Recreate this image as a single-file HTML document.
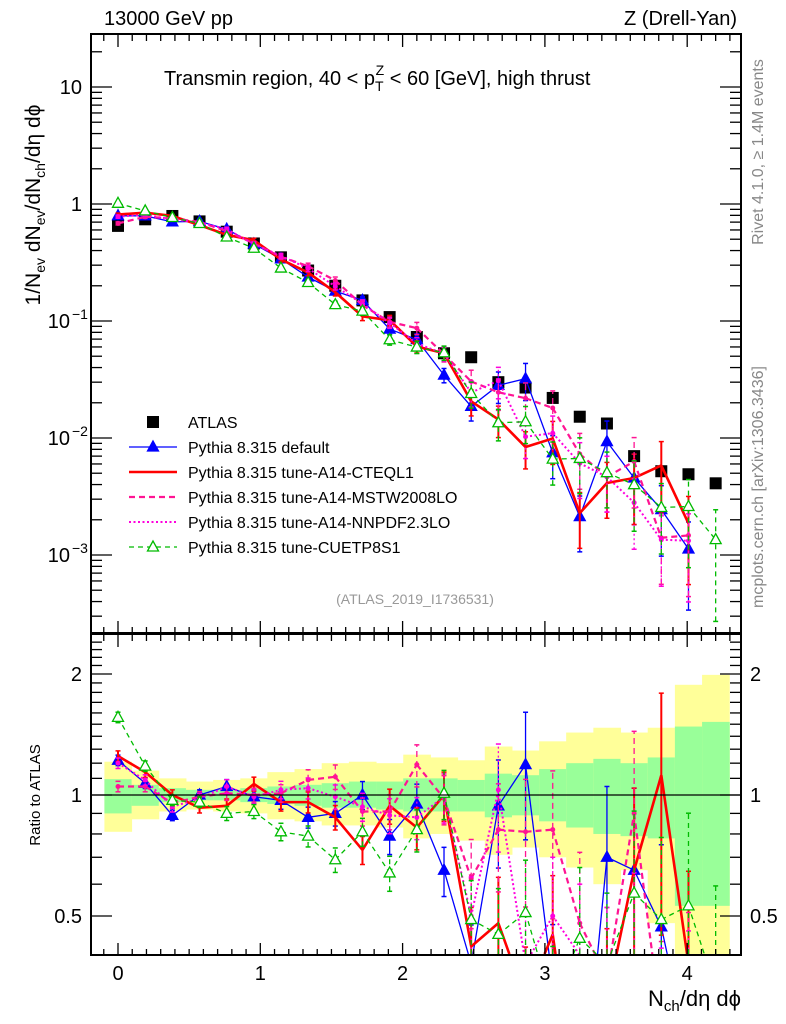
<!DOCTYPE html>
<html><head><meta charset="utf-8">
<style>
html,body{margin:0;padding:0;background:#fff;overflow:hidden;width:786px;height:1024px;}
svg{display:block;font-family:"Liberation Sans",sans-serif;}
</style></head>
<body>
<svg id="chart" width="786" height="1024" viewBox="0 0 786 1024">
<defs>
<clipPath id="clipMain"><rect x="91" y="34" width="650" height="599"/></clipPath>
<clipPath id="clipRatio"><rect x="91" y="634" width="650" height="321"/></clipPath>
</defs>
<g id="ratioBands" clip-path="url(#clipRatio)"></g>
<g id="mainMarks" clip-path="url(#clipMain)"></g>
<g id="ratioMarks" clip-path="url(#clipRatio)"></g>
<g id="axes"></g>
<rect x="91" y="34" width="650" height="599" fill="none" stroke="#000" stroke-width="2"/>
<rect x="91" y="634" width="650" height="321" fill="none" stroke="#000" stroke-width="2"/>
<line x1="91" y1="795" x2="741" y2="795" stroke="#000" stroke-width="1.2"/>
<text x="104" y="25" font-size="20">13000 GeV pp</text>
<text x="737" y="25" font-size="20" text-anchor="end">Z (Drell-Yan)</text>
<text x="164" y="85" font-size="20">Transmin region, 40 &lt; p<tspan font-size="14" dy="6">T</tspan><tspan font-size="14" dx="-8" dy="-16">Z</tspan><tspan dy="10"> &lt; 60 [GeV], high thrust</tspan></text>
<text x="415" y="604" font-size="14" fill="#999" text-anchor="middle">(ATLAS_2019_I1736531)</text>
<text transform="translate(763,152) rotate(-90)" font-size="16" fill="#888" text-anchor="middle">Rivet 4.1.0, ≥ 1.4M events</text>
<text transform="translate(763,487) rotate(-90)" font-size="16" fill="#888" text-anchor="middle">mcplots.cern.ch [arXiv:1306.3436]</text>
<text transform="translate(40,205) rotate(-90)" font-size="21" text-anchor="middle">1/N<tspan font-size="14" dy="5">ev</tspan><tspan dy="-5"> dN</tspan><tspan font-size="14" dy="5">ev</tspan><tspan dy="-5">/dN</tspan><tspan font-size="14" dy="5">ch</tspan><tspan dy="-5">/dη dϕ</tspan></text>
<text transform="translate(40,795) rotate(-90)" font-size="15" text-anchor="middle">Ratio to ATLAS</text>
<text x="741" y="1006" font-size="22" text-anchor="end">N<tspan font-size="15" dy="5">ch</tspan><tspan dy="-5">/dη dϕ</tspan></text>
<g id="legend"></g>
</svg>
<script>
const xValues = [0,0.191,0.382,0.573,0.764,0.955,1.145,1.336,1.527,1.718,1.909,2.1,2.291,2.482,2.673,2.864,3.055,3.245,3.436,3.627,3.818,4.009,4.2];
const atlasValues = [0.65,0.74,0.79,0.71,0.58,0.46,0.35,0.27,0.20,0.15,0.108,0.073,0.053,0.049,0.030,0.027,0.022,0.0152,0.0133,0.0070,0.0052,0.0049,0.0041];
const bandYellowHi = [1.21,1.15,1.10,1.08,1.09,1.10,1.14,1.16,1.20,1.21,1.20,1.26,1.24,1.22,1.32,1.29,1.36,1.43,1.47,1.43,1.47,1.88,1.99];
const bandYellowLo = [0.81,0.87,0.91,0.92,0.91,0.90,0.87,0.86,0.84,0.84,0.83,0.78,0.80,0.77,0.71,0.74,0.70,0.66,0.60,0.65,0.48,0.38,0.38];
const bandGreenHi = [1.095,1.06,1.04,1.03,1.03,1.04,1.05,1.06,1.07,1.08,1.08,1.10,1.10,1.09,1.13,1.12,1.16,1.20,1.23,1.20,1.24,1.48,1.52];
const bandGreenLo = [0.90,0.94,0.96,0.97,0.97,0.96,0.95,0.94,0.93,0.93,0.92,0.91,0.91,0.91,0.88,0.89,0.86,0.83,0.80,0.79,0.78,0.53,0.53];
const ratioDefault = [1.22,1.07,0.89,1.0,1.05,0.99,0.97,0.88,0.90,1.0,0.79,0.95,0.65,0.38,0.94,1.19,0.34,0.14,0.70,0.65,0.47,0.23,null];
const ratioCTEQ = [1.25,1.14,1.0,0.93,0.94,1.065,0.96,0.96,0.88,0.73,0.94,0.83,1.0,0.42,0.48,0.31,0.45,0.15,0.31,0.65,1.12,0.38,null];
const ratioMSTW = [1.05,1.05,0.955,0.99,1.01,1.0,1.01,1.09,1.11,0.91,0.91,1.19,0.98,0.62,0.82,0.81,0.82,0.48,0.35,0.9,0.27,0.3,null];
const ratioNNPDF = [1.2,1.09,0.935,0.98,1.05,0.99,1.03,1.04,0.99,0.935,0.89,0.88,0.99,0.5,1.03,0.38,0.5,0.4,0.35,0.4,0.26,0.27,null];
const ratioCUETP = [1.56,1.18,0.97,0.96,0.90,0.91,0.81,0.79,0.69,0.81,0.64,0.82,1.01,0.49,0.45,0.51,0.3,0.44,0.38,0.57,0.49,0.53,0.33];
const relErrMC = [0.03,0.03,0.03,0.03,0.04,0.04,0.05,0.06,0.07,0.08,0.1,0.12,0.14,0.25,0.3,0.35,0.4,0.5,0.5,0.6,0.6,0.7,0.8];
const seriesNames = ["Pythia 8.315 default","Pythia 8.315 tune-A14-CTEQL1","Pythia 8.315 tune-A14-MSTW2008LO","Pythia 8.315 tune-A14-NNPDF2.3LO","Pythia 8.315 tune-CUETP8S1"];

const NS="http://www.w3.org/2000/svg";
function xs(v){return 118+142.3*v;}
function ys(v){return 204-117*Math.log10(v);}
function yr(r){return 795-402*Math.log10(r);}
function mk(tag,attrs,parent){const e=document.createElementNS(NS,tag);for(const k in attrs)e.setAttribute(k,attrs[k]);parent.appendChild(e);return e;}
function clampY(y,lo,hi){return Math.min(hi,Math.max(lo,y));}

const styles=[
 {color:"#0000ff",w:1.3,dash:"",marker:"tri",fill:true},
 {color:"#ff0000",w:2.6,dash:"",marker:"none"},
 {color:"#ff1493",w:2.2,dash:"6,4",marker:"dot"},
 {color:"#ff00dd",w:2,dash:"2,2.5",marker:"dot"},
 {color:"#00bb00",w:1.3,dash:"5,4",marker:"tri",fill:false}
];
const ratios=[ratioDefault,ratioCTEQ,ratioMSTW,ratioNNPDF,ratioCUETP];
const names=["series-default","series-cteql1","series-mstw2008lo","series-nnpdf23lo","series-cuetp8s1"];

const bands=document.getElementById('ratioBands');
const halfW=(xValues[1]-xValues[0])/2;
for(let i=0;i<xValues.length;i++){
  const x0=xs(xValues[i]-halfW), x1=Math.min(xs(xValues[i]+halfW),741);
  const yh=clampY(yr(bandYellowHi[i]),634,955), yl=clampY(yr(bandYellowLo[i]),634,955);
  const ry=mk('rect',{x:x0,y:yh,width:x1-x0+0.5,height:yl-yh,fill:'#ffff99'},bands);
  
  
  const gh=clampY(yr(bandGreenHi[i]),634,955), gl=clampY(yr(bandGreenLo[i]),634,955);
  const rg=mk('rect',{x:x0,y:gh,width:x1-x0+0.5,height:gl-gh,fill:'#99ff99'},bands);
  
  
}

function marker(g,st,x,y,name){
  let e;
  if(st.marker==="tri"){
    e=mk('polygon',{points:`${x},${y-6} ${x-5.5},${y+4} ${x+5.5},${y+4}`,fill:st.fill?st.color:'#fff',stroke:st.color,'stroke-width':1.3},g);
  } else if(st.marker==="dot"){
    e=mk('circle',{cx:x,cy:y,r:2.5,fill:st.color},g);
  } else return;
  
  
}

function clipSeg(x1,y1,x2,y2,lo,hi){
  let t0=0,t1=1;const dy=y2-y1;
  if(dy===0){ if(y1<lo||y1>hi) return null; }
  else{
    let ta=(lo-y1)/dy, tb=(hi-y1)/dy;
    if(ta>tb){const t=ta;ta=tb;tb=t;}
    t0=Math.max(t0,ta);t1=Math.min(t1,tb);
    if(t0>t1) return null;
  }
  return [x1+(x2-x1)*t0,y1+dy*t0,x1+(x2-x1)*t1,y1+dy*t1];
}

function drawSeries(parent,ratio,si,mainMode){
  const st=styles[si];
  const lo=mainMode?35:635, hi=mainMode?632:954;
  const f=mainMode?ys:yr;
  const g=mk('g',{},parent);
  
  
  const pts=[];
  for(let i=0;i<xValues.length;i++){
    if(ratio[i]==null)continue;
    const v=mainMode?atlasValues[i]*ratio[i]:ratio[i];
    const x=xs(xValues[i]), y=f(v);
    pts.push([x,y]);
    const e=relErrMC[i];
    const vlo=Math.max(v*(1-e),1e-6), vhi=v*(1+e);
    const ya=clampY(f(vhi),lo,hi), yb=clampY(f(vlo),lo,hi);
    if(yb-ya>0.5){
      const eb=mk('line',{x1:x,x2:x,y1:yb,y2:ya,stroke:st.color,'stroke-width':si===1?2:1.3,'stroke-dasharray':st.dash},g);
      
      
      if(f(vhi)>=lo) mk('line',{x1:x-2.5,x2:x+2.5,y1:ya,y2:ya,stroke:st.color,'stroke-width':1.5},g);
      if(f(vlo)<=hi) mk('line',{x1:x-2.5,x2:x+2.5,y1:yb,y2:yb,stroke:st.color,'stroke-width':1.5},g);
    }
  }
  let d="";
  for(let k=0;k<pts.length-1;k++){
    const s=clipSeg(pts[k][0],pts[k][1],pts[k+1][0],pts[k+1][1],lo,hi);
    if(s) d+=`M${s[0]},${s[1]}L${s[2]},${s[3]}`;
  }
  const pl=mk('path',{d:d,fill:'none',stroke:st.color,'stroke-width':st.w,'stroke-dasharray':st.dash,'stroke-linejoin':'round'},g);
  
  
  pts.forEach(p=>{ if(p[1]>=lo+5&&p[1]<=hi-5) marker(g,st,p[0],p[1],'series-point'); });
}

const main=document.getElementById('mainMarks');
const ga=mk('g',{},main);


for(let i=0;i<xValues.length;i++){
  const r=mk('rect',{x:xs(xValues[i])-6,y:ys(atlasValues[i])-6,width:12,height:12,fill:'#000'},ga);
  
  
}
const ratioG=document.getElementById('ratioMarks');
for(let s=0;s<5;s++){drawSeries(main,ratios[s],s,true);drawSeries(ratioG,ratios[s],s,false);}

const ax=document.getElementById('axes');
function tick(x1,y1,x2,y2){mk('line',{x1,y1,x2,y2,stroke:'#000','stroke-width':1.3},ax);}
for(let k=-2;k<=44;k++){
  const v=k/10, x=xs(v);
  if(x<92||x>740)continue;
  const major=(k%10===0);
  const L=major?12:6;
  tick(x,633,x,633-L);tick(x,35,x,35+L);
  tick(x,955,x,955-L);tick(x,635,x,635+L);
}
const xLabels=["0","1","2","3","4"];
xLabels.forEach((t,i)=>{
  const e=mk('text',{x:xs(i),y:980,'font-size':20,'text-anchor':'middle'},ax);e.textContent=t;
  
  
});
for(let d=-4;d<=1;d++){
  for(let m=1;m<=9;m++){
    const v=m*Math.pow(10,d), y=ys(v);
    if(y<35||y>632)continue;
    const L=m===1?20:10;
    tick(92,y,92+L,y);tick(740,y,740-L,y);
  }
}
const yLabels=[[10,"10",""],[1,"1",""],[0.1,"10","−1"],[0.01,"10","−2"],[0.001,"10","−3"]];
yLabels.forEach(([v,b,e])=>{
  const t=mk('text',{x:e?70:82,y:ys(v)+7,'font-size':20,'text-anchor':'end'},ax);
  t.textContent=b;
  
  
  if(e){const s=mk('text',{x:72,y:ys(v)-2,'font-size':14},ax);s.textContent=e;
   
   }
});
for(let k=4;k<=25;k++){
  const r=k/10,y=yr(r);
  if(y<636||y>954)continue;
  const major=(k===5||k===10||k===20);
  const L=major?20:10;
  tick(92,y,92+L,y);tick(740,y,740-L,y);
}
[[2,"2"],[1,"1"],[0.5,"0.5"]].forEach(([v,s])=>{
  const t=mk('text',{x:82,y:yr(v)+7,'font-size':20,'text-anchor':'end'},ax);t.textContent=s;
  
  
  const t2=mk('text',{x:750,y:yr(v)+7,'font-size':20},ax);t2.textContent=s;
  
  
});

const lg=document.getElementById('legend');
const ly=[422,447,472,497,522,547];
const la=mk('rect',{x:147,y:ly[0]-6,width:12,height:12,fill:'#000'},lg);


const lt=mk('text',{x:188,y:ly[0]+6,'font-size':16},lg);lt.textContent="ATLAS";


for(let s=0;s<5;s++){
  const st=styles[s],y=ly[s+1];
  const l=mk('line',{x1:129,x2:177,y1:y,y2:y,stroke:st.color,'stroke-width':st.w,'stroke-dasharray':st.dash},lg);
  
  
  if(st.marker==="tri")marker(lg,st,153,y,'legend-marker');
  const t=mk('text',{x:188,y:y+6,'font-size':16},lg);t.textContent=seriesNames[s];
  
  
}
</script>
</body></html>
